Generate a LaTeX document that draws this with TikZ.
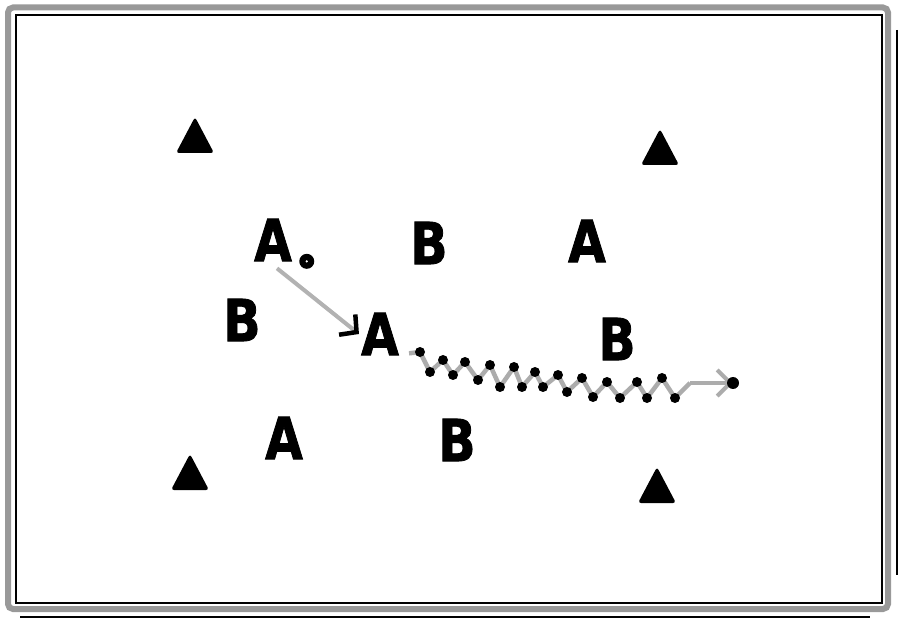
\documentclass[tikz,border=0pt]{standalone}
\usepackage{fontspec}
\newfontfamily\letterfont{DejaVu Sans}[FakeStretch=0.84,FakeBold=1.4]
\usetikzlibrary{arrows.meta,positioning}

\begin{document}
\begin{tikzpicture}[
    x=1pt, y=-1pt,
    player/.style={
        % the letters
        inner sep=0pt,
        font=\letterfont\bfseries\fontsize{58}{58}\selectfont},
    cone/.style={fill=black, rounded corners=3pt},
    ball/.style={circle, fill=black, inner sep=0pt, minimum size=15pt},
    pass/.style={
        gray!60, line width=4pt,
        -{Straight Barb[length=12pt,width=26pt,line width=4.5pt,black]}},
    dribble/.style={gray!65, line width=4.5pt, line join=round}]
  % page and frame
  \fill[white] (0,0) rectangle (900,620);
  \useasboundingbox (0,0) rectangle (900,620);
  \draw[gray!80, line width=6pt, rounded corners=5pt] (8,7.5) rectangle (888,609);
  \draw[line width=1.6pt] (16,15) rectangle (882,603);
  \draw[line width=1.6pt] (20,617) -- (870,617);
  \draw[line width=1.6pt] (897,30) -- (897,575);
  % cones
  \foreach \x/\y in {195/135, 660/147, 190/472, 657/485}
    \fill[cone] (\x-19,\y+18) -- (\x,\y-18) -- (\x+19,\y+18) -- cycle;
  % players
  \node (A1) [player] at (273,240) {A};
  \node (B1) [player] at (429,243) {B};
  \node (A3) [player] at (587,241) {A};
  \node (B2) [player] at (242,320) {B};
  \node (A2) [player] at (380,334) {A};
  \node (B3) [player] at (617,339) {B};
  \node (A4) [player] at (284,438) {A};
  \node (B4) [player] at (457,440) {B};
  \node (ball) [ball, right=7pt of A1.south east] {};
  \fill[white] (ball) circle (1.2pt);
  % pass and dribble
  \draw[pass] ([xshift=4pt,yshift=-7pt]A1.south) -- ([xshift=-2pt]A2.west);
  \coordinate (goal) at (733,383);
  \draw[dribble] ([xshift=10pt,yshift=2pt]A2.south east)
    -- plot coordinates {(420,352) (430,372) (443,360) (453,375) (465,362)
      (478,380) (490,365) (500,387) (514,367) (522,387) (535,372) (543,387)
      (558,375) (567,392) (582,378) (593,397) (607,382) (620,398) (637,382)
      (647,398) (662,378) (675,398) (690,383)};
  \foreach \p in {(420,352), (430,372), (443,360), (453,375), (465,362),
      (478,380), (490,365), (500,387), (514,367), (522,387), (535,372),
      (543,387), (558,375), (567,392), (582,378), (593,397), (607,382),
      (620,398), (637,382), (647,398), (662,378), (675,398)}
    \fill \p circle (5pt);
  \draw[dribble, -{Straight Barb[length=13pt,width=26pt,line width=4pt]}] (690,383) -- (goal);
  \fill (goal) circle (6pt);
\end{tikzpicture}
\end{document}
